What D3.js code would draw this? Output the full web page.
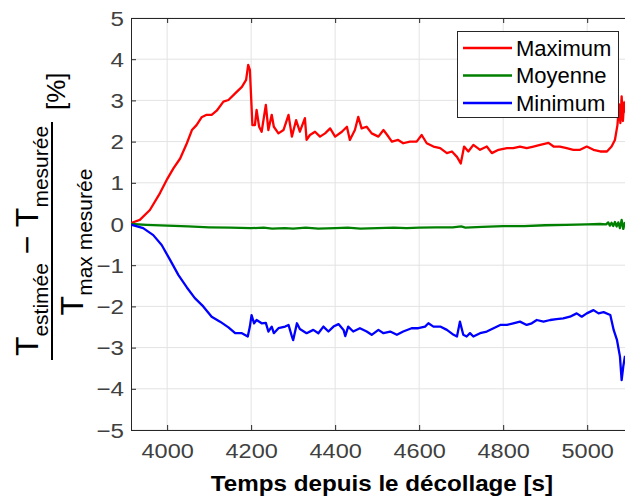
<!DOCTYPE html>
<html>
<head>
<meta charset="utf-8">
<script src="https://cdn.jsdelivr.net/npm/d3@7"></script>
<style>
  body { margin: 0; background: #fff; }
  svg { display: block; font-family: "Liberation Sans", Arial, sans-serif; }
</style>
</head>
<body>
<div id="chart"></div>
<script>
// Data: [time (s), error (%)]
const maximumSeries = [
  [3914, 0], [3916, 0.03], [3935, 0.1], [3959, 0.34], [3983, 0.75], [3999, 1.07],
  [4015, 1.35], [4031, 1.59], [4047, 1.96], [4059, 2.28], [4070, 2.4], [4082, 2.59],
  [4094, 2.65], [4106, 2.65], [4118, 2.75], [4134, 2.97], [4146, 3.01], [4162, 3.17],
  [4178, 3.33], [4188, 3.5], [4193, 3.86], [4197, 3.74], [4203, 2.4], [4209, 2.4],
  [4213, 2.77], [4219, 2.36], [4225, 2.24], [4235, 2.89], [4241, 2.28], [4249, 2.65],
  [4254, 2.36], [4265, 2.2], [4277, 2.28], [4289, 2.65], [4297, 2.12], [4307, 2.52],
  [4316, 2.24], [4328, 2.57], [4332, 2.04], [4340, 2.16], [4352, 2.24], [4364, 2.12],
  [4376, 2.2], [4388, 2.32], [4400, 2.12], [4416, 2.24], [4428, 2.36], [4435, 2.04],
  [4447, 2.28], [4455, 2.6], [4463, 2.32], [4475, 2.36], [4487, 2.2], [4503, 2.12],
  [4515, 2.28], [4524, 2.16], [4535, 2.0], [4550, 2.04], [4562, 1.96], [4578, 2.0],
  [4594, 2.0], [4606, 2.16], [4618, 1.96], [4634, 1.88], [4650, 1.84], [4666, 1.72],
  [4678, 1.76], [4690, 1.63], [4699, 1.47], [4707, 1.88], [4717, 1.76], [4729, 1.92],
  [4745, 1.8], [4761, 1.88], [4773, 1.72], [4789, 1.8], [4809, 1.84], [4824, 1.84],
  [4840, 1.88], [4856, 1.84], [4872, 1.88], [4888, 1.92], [4908, 1.97], [4920, 1.88],
  [4935, 1.88], [4951, 1.84], [4967, 1.8], [4983, 1.8], [4999, 1.88], [5015, 1.8],
  [5031, 1.76], [5047, 1.76], [5058, 1.88], [5066, 2.04], [5072, 2.4], [5076, 2.9],
  [5079, 2.45], [5082, 3.1], [5085, 2.5], [5088, 2.95], [5090, 2.7]
];

const moyenneSeries = [
  [3914, 0], [3950, -0.02], [4000, -0.04], [4050, -0.06], [4100, -0.08], [4150, -0.09],
  [4200, -0.1], [4230, -0.09], [4250, -0.11], [4280, -0.1], [4300, -0.11], [4330, -0.09],
  [4360, -0.11], [4400, -0.1], [4430, -0.09], [4460, -0.11], [4500, -0.1], [4540, -0.09],
  [4570, -0.1], [4600, -0.09], [4640, -0.08], [4680, -0.08], [4700, -0.06], [4710, -0.09],
  [4750, -0.07], [4800, -0.05], [4850, -0.05], [4900, -0.03], [4950, -0.02], [5000, -0.01],
  [5030, 0], [5045, -0.01], [5050, 0.04], [5054, -0.04], [5058, 0.03], [5062, -0.05],
  [5066, 0.05], [5070, -0.06], [5074, 0.04], [5078, -0.1], [5082, 0.1], [5086, -0.12],
  [5090, 0.05]
];

const minimumSeries = [
  [3914, 0], [3916, -0.02], [3943, -0.1], [3967, -0.27], [3987, -0.51], [4007, -0.87],
  [4027, -1.24], [4047, -1.54], [4066, -1.8], [4086, -2.0], [4106, -2.25], [4126, -2.37],
  [4146, -2.51], [4162, -2.65], [4178, -2.65], [4192, -2.73], [4197, -2.49], [4201, -2.21],
  [4207, -2.41], [4213, -2.33], [4225, -2.41], [4235, -2.4], [4241, -2.61], [4249, -2.49],
  [4254, -2.65], [4265, -2.53], [4281, -2.49], [4289, -2.45], [4297, -2.73], [4300, -2.82],
  [4309, -2.41], [4316, -2.55], [4332, -2.65], [4348, -2.57], [4360, -2.65], [4372, -2.49],
  [4384, -2.61], [4396, -2.49], [4408, -2.43], [4420, -2.57], [4424, -2.72], [4431, -2.49],
  [4443, -2.61], [4459, -2.53], [4475, -2.61], [4487, -2.69], [4503, -2.57], [4515, -2.65],
  [4531, -2.61], [4547, -2.69], [4562, -2.61], [4582, -2.53], [4598, -2.53], [4614, -2.49],
  [4622, -2.41], [4634, -2.49], [4650, -2.49], [4666, -2.57], [4682, -2.69], [4690, -2.73],
  [4697, -2.37], [4705, -2.69], [4713, -2.73], [4721, -2.65], [4729, -2.73], [4745, -2.65],
  [4761, -2.61], [4777, -2.53], [4793, -2.45], [4809, -2.45], [4824, -2.41], [4840, -2.37],
  [4856, -2.45], [4868, -2.41], [4880, -2.33], [4896, -2.37], [4912, -2.33], [4927, -2.31],
  [4943, -2.29], [4959, -2.25], [4975, -2.17], [4987, -2.25], [4999, -2.17], [5015, -2.09],
  [5027, -2.17], [5039, -2.14], [5055, -2.21], [5063, -2.57], [5071, -2.82], [5078, -3.22],
  [5082, -3.79], [5086, -3.45], [5090, -3.2]
];

const xTicks = [4000, 4200, 4400, 4600, 4800, 5000];
const yTicks = [-5, -4, -3, -2, -1, 0, 1, 2, 3, 4, 5];

const legendData = [
  { label: "Maximum", color: "#ff0000", data: maximumSeries },
  { label: "Moyenne", color: "#008000", data: moyenneSeries },
  { label: "Minimum", color: "#0000ff", data: minimumSeries }
];

// 1. Dimensions
const W = 625, H = 497;
const plot = { left: 131, right: 625, top: 18, bottom: 430 };

const svg = d3.select("#chart")
  .append("svg")
  .attr("width", W)
  .attr("height", H);

// 2. Scales
const x = d3.scaleLinear().domain([3914, 5090]).range([plot.left, plot.right]);
const y = d3.scaleLinear().domain([-5, 5]).range([plot.bottom, plot.top]);

// 3. Grid
svg.append("g")
  .selectAll("line")
  .data(xTicks)
  .join("line")
  .attr("x1", d => x(d)).attr("x2", d => x(d))
  .attr("y1", plot.top).attr("y2", plot.bottom)
  .attr("stroke", "#e3e3e3").attr("stroke-width", 1);

svg.append("g")
  .selectAll("line")
  .data(yTicks)
  .join("line")
  .attr("x1", plot.left).attr("x2", plot.right)
  .attr("y1", d => y(d)).attr("y2", d => y(d))
  .attr("stroke", "#e3e3e3").attr("stroke-width", 1);

// 4. Axes (MATLAB style: ticks inward, box on)
const axisColor = "#262626";
const tickColor = "#404040";

const xAxis = svg.append("g")
  .attr("transform", `translate(0,${plot.bottom})`)
  .call(d3.axisBottom(x).tickValues(xTicks).tickFormat(d3.format("d"))
    .tickSize(-5).tickPadding(13).tickSizeOuter(0));
const yAxis = svg.append("g")
  .attr("transform", `translate(${plot.left},0)`)
  .call(d3.axisLeft(y).tickValues(yTicks).tickFormat(d3.format("d"))
    .tickSize(-5).tickPadding(7).tickSizeOuter(0));
const topAxis = svg.append("g")
  .attr("transform", `translate(0,${plot.top})`)
  .call(d3.axisTop(x).tickValues(xTicks).tickSize(-5).tickFormat("").tickSizeOuter(0));

[xAxis, yAxis, topAxis].forEach(g => {
  g.select(".domain").attr("stroke", axisColor);
  g.selectAll(".tick line").attr("stroke", axisColor);
  g.selectAll(".tick text")
    .attr("fill", tickColor)
    .attr("font-size", 21)
    .attr("font-family", "Liberation Sans, Arial, sans-serif");
});
xAxis.selectAll(".tick text")
  .attr("dy", "0.71em")
  .attr("transform", "scale(1.12,1)");
yAxis.selectAll(".tick text")
  .attr("dy", "0.34em")
  .attr("transform", "translate(-7,0) scale(1.15,1) translate(7,0)");

// 5. Lines
svg.append("clipPath").attr("id", "clip")
  .append("rect")
  .attr("x", plot.left).attr("y", plot.top)
  .attr("width", plot.right - plot.left).attr("height", plot.bottom - plot.top);

const line = d3.line().x(d => x(d[0])).y(d => y(d[1]));

legendData.forEach(s => {
  svg.append("path")
    .datum(s.data)
    .attr("clip-path", "url(#clip)")
    .attr("fill", "none")
    .attr("stroke", s.color)
    .attr("stroke-width", 2.3)
    .attr("stroke-linejoin", "round")
    .attr("d", line);
});

// 6. Legend
const legend = svg.append("g");
legend.append("rect")
  .attr("x", 457.5).attr("y", 31.5)
  .attr("width", 161).attr("height", 86)
  .attr("fill", "#fff")
  .attr("stroke", axisColor)
  .attr("stroke-width", 1);

legendData.forEach((s, i) => {
  const cy = 48 + i * 27.5;
  legend.append("line")
    .attr("x1", 463).attr("x2", 512)
    .attr("y1", cy).attr("y2", cy)
    .attr("stroke", s.color)
    .attr("stroke-width", 2.3);
  legend.append("text")
    .attr("x", 516).attr("y", cy + 7.5)
    .attr("font-size", 22)
    .attr("fill", "#000")
    .text(s.label);
});

// 7. X axis title
svg.append("text")
  .attr("x", 382)
  .attr("y", 491)
  .attr("text-anchor", "middle")
  .attr("font-size", 22)
  .attr("font-weight", "bold")
  .attr("transform", "translate(382,0) scale(1.1,1) translate(-382,0)")
  .text("Temps depuis le décollage [s]");

// 8. Y axis title: fraction (rotated)
const yl = svg.append("g").attr("transform", "rotate(-90)");

const num = yl.append("text")
  .attr("x", -241).attr("y", 38)
  .attr("text-anchor", "middle")
  .attr("fill", "#000");
num.append("tspan").attr("font-size", 32).text("T");
num.append("tspan").attr("font-size", 21).attr("dy", 10).text("estimée");
num.append("tspan").attr("font-size", 32).attr("dy", -10).text(" − T");
num.append("tspan").attr("font-size", 21).attr("dy", 10).text("mesurée");

yl.append("line")
  .attr("x1", -360).attr("x2", -122)
  .attr("y1", 52).attr("y2", 52)
  .attr("stroke", "#000").attr("stroke-width", 2);

const den = yl.append("text")
  .attr("x", -242).attr("y", 83)
  .attr("text-anchor", "middle")
  .attr("fill", "#000");
den.append("tspan").attr("font-size", 32).text("T");
den.append("tspan").attr("font-size", 21).attr("dy", 9).text("max mesurée");

yl.append("text")
  .attr("x", -110).attr("y", 65)
  .attr("font-size", 26)
  .attr("fill", "#000")
  .text("[%]");
</script>
</body>
</html>
